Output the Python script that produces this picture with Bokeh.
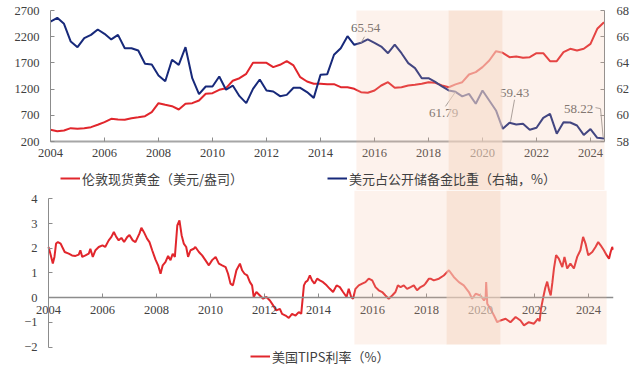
from bokeh.plotting import figure
from bokeh.models import (Range1d, LinearAxis, FixedTicker, BoxAnnotation, Legend,
                          LegendItem, ColumnDataSource)
from bokeh.embed import file_html
from bokeh.resources import INLINE
from bokeh.core.properties import value

# ---------------- data ----------------
# quarterly, starting 2004Q1
gold_price = [423, 397, 410, 455, 443, 455, 474, 519, 569, 633, 620, 614, 645, 664, 684, 760,
              931, 900, 874, 811, 920, 931, 983, 1110, 1122, 1187, 1218, 1360, 1408, 1492, 1702,
              1702, 1702, 1619, 1664, 1733, 1651, 1428, 1345, 1301, 1301, 1294, 1294, 1237, 1237,
              1206, 1141, 1130, 1174, 1269, 1332, 1225, 1237, 1269, 1282, 1301, 1330, 1320, 1270,
              1235, 1290, 1332, 1479, 1523, 1619, 1746, 1924, 1893, 1810, 1822, 1797, 1810, 1886,
              1886, 1733, 1733, 1905, 1969, 1937, 1969, 2064, 2351, 2477]
usd_share = [67.16, 67.44, 66.98, 65.63, 65.20, 65.89, 66.14, 66.55, 66.22, 65.79, 66.14, 65.12,
             65.12, 64.95, 63.93, 63.88, 63.04, 62.60, 64.24, 63.85, 65.20, 62.83, 61.61, 62.20,
             62.20, 62.96, 61.95, 62.27, 61.46, 60.93, 62.02, 62.73, 61.89, 61.82, 61.46, 61.56,
             62.10, 62.10, 61.77, 61.33, 63.09, 63.14, 64.62, 65.12, 66.04, 65.38, 65.54, 65.79,
             65.53, 65.25, 64.74, 65.40, 64.74, 63.98, 63.60, 62.83, 62.83, 62.55, 62.20, 61.90,
             61.79, 61.44, 61.64, 60.88, 61.89, 61.13, 60.37, 58.97, 59.43, 59.30, 59.35, 58.90,
             59.05, 59.80, 60.11, 58.60, 59.47, 59.45, 59.22, 58.50, 58.95, 58.28, 58.22]
quarter_x = [2004 + 0.25 * i for i in range(len(gold_price))]

tips_x = [2004.00, 2004.07, 2004.16, 2004.22, 2004.28, 2004.35, 2004.45, 2004.51, 2004.60, 2004.75,
          2004.87, 2005.00, 2005.12, 2005.18, 2005.25, 2005.37, 2005.49, 2005.55, 2005.64, 2005.74,
          2005.86, 2006.00, 2006.10, 2006.23, 2006.33, 2006.42, 2006.51, 2006.60, 2006.70, 2006.80,
          2006.92, 2007.00, 2007.12, 2007.22, 2007.37, 2007.44, 2007.53, 2007.65, 2007.74, 2007.84,
          2007.96, 2008.06, 2008.15, 2008.23, 2008.33, 2008.43, 2008.52, 2008.60, 2008.68, 2008.77,
          2008.85, 2008.93, 2009.01, 2009.10, 2009.17, 2009.26, 2009.38, 2009.44, 2009.57, 2009.69,
          2009.81, 2009.94, 2010.06, 2010.19, 2010.31, 2010.43, 2010.56, 2010.65, 2010.74, 2010.83,
          2010.93, 2010.96, 2011.09, 2011.17, 2011.26, 2011.36, 2011.46, 2011.54, 2011.60, 2011.70,
          2011.83, 2011.95, 2012.07, 2012.20, 2012.32, 2012.44, 2012.57, 2012.65, 2012.78, 2012.90,
          2013.02, 2013.15, 2013.27, 2013.36, 2013.46, 2013.52, 2013.60, 2013.68, 2013.76, 2013.85,
          2013.95, 2014.05, 2014.17, 2014.30, 2014.42, 2014.54, 2014.67, 2014.79, 2014.91, 2015.04,
          2015.12, 2015.21, 2015.28, 2015.37, 2015.49, 2015.62, 2015.74, 2015.86, 2015.99, 2016.11,
          2016.23, 2016.36, 2016.48, 2016.60, 2016.73, 2016.85, 2016.94, 2017.04, 2017.16, 2017.28,
          2017.41, 2017.53, 2017.65, 2017.78, 2017.90, 2017.96, 2018.09, 2018.15, 2018.27, 2018.46,
          2018.64, 2018.83, 2019.01, 2019.20, 2019.38, 2019.57, 2019.69, 2019.82, 2020.00, 2020.13,
          2020.19, 2020.21, 2020.25, 2020.37, 2020.50, 2020.62, 2020.74, 2020.93, 2021.11, 2021.30,
          2021.48, 2021.61, 2021.79, 2021.98, 2022.13, 2022.19, 2022.24, 2022.33, 2022.40, 2022.47,
          2022.54, 2022.60, 2022.66, 2022.72, 2022.80, 2022.90, 2023.03, 2023.11, 2023.21, 2023.33,
          2023.46, 2023.58, 2023.70, 2023.80, 2023.89, 2023.99, 2024.14, 2024.26, 2024.36, 2024.45,
          2024.57, 2024.67, 2024.76, 2024.82, 2024.88, 2024.93]
tips_rate = [2.05, 1.78, 1.38, 1.65, 2.19, 2.25, 2.19, 2.05, 1.85, 1.78,
             1.71, 1.69, 1.74, 1.92, 1.65, 1.71, 1.78, 1.98, 1.65, 1.92,
             2.05, 2.12, 2.05, 2.32, 2.46, 2.66, 2.46, 2.32, 2.42, 2.25,
             2.46, 2.53, 2.32, 2.25, 2.60, 2.83, 2.66, 2.39, 2.25, 1.92,
             1.55, 1.31, 0.97, 1.31, 1.44, 1.69, 1.52, 1.78, 1.65, 2.92,
             3.13, 2.53, 2.19, 2.05, 1.65, 1.92, 1.98, 2.05, 1.85, 1.71,
             1.52, 1.31, 1.52, 1.65, 1.38, 1.31, 1.24, 0.97, 0.57, 0.50,
             0.97, 1.11, 1.38, 1.11, 0.97, 0.90, 0.63, 0.50, 0.03, 0.23,
             0.09, -0.04, 0.03, -0.11, -0.31, -0.51, -0.45, -0.65, -0.72, -0.82,
             -0.65, -0.72, -0.58, -0.65, 0.50, 0.63, 0.70, 0.90, 0.70, 0.57,
             0.77, 0.70, 0.63, 0.50, 0.36, 0.23, 0.50, 0.43, 0.23, 0.03,
             0.36, 0.03, -0.04, 0.36, 0.50, 0.57, 0.63, 0.77, 0.70, 0.43,
             0.30, 0.23, 0.09, -0.04, 0.09, 0.23, 0.50, 0.43, 0.50, 0.36,
             0.43, 0.50, 0.30, 0.43, 0.50, 0.57, 0.77, 0.77, 0.70, 0.77,
             0.90, 1.11, 0.84, 0.63, 0.50, 0.23, -0.04, 0.16, 0.09, -0.11,
             0.00, 0.63, -0.24, -0.45, -0.72, -0.99, -0.92, -0.85, -0.99, -0.78,
             -0.92, -1.12, -0.99, -1.05, -0.85, -0.95, -0.45, 0.05, 0.40, 0.65,
             0.30, 0.09, 0.60, 1.18, 1.72, 1.58, 1.24, 1.65, 1.18, 1.38,
             1.18, 1.65, 1.92, 2.46, 2.19, 1.72, 1.85, 2.05, 2.25, 2.12,
             1.92, 1.72, 1.58, 1.85, 2.05, 1.94]

year_ticks = [2004, 2006, 2008, 2010, 2012, 2014, 2016, 2018, 2020, 2022, 2024]
gold_ticks = [200, 700, 1200, 1700, 2200, 2700]
share_ticks = [58, 60, 62, 64, 66, 68]
tips_ticks = [-2, -1, 0, 1, 2, 3, 4]

# labelled points: (quarter index, text)
share_labels = [(46, "65.54"), (60, "61.79"), (68, "59.43"), (82, "58.22")]

# shaded periods
light_start, dark_start, dark_end = 2015.33, 2018.74, 2020.74

# ---------------- style ----------------
RED = "#e1262c"
BLUE = "#17297a"
AXIS = "#8c8c8c"
TXT = "#404040"
SERIF = "Liberation Serif"
CJK = "Noto Sans CJK SC"
W = 636
H = 368
LIGHT = ("#f5be9f", 0.2)
DARK = ("#f6d5c1", 0.64)
PX_YR = 27.0


def style_axis(ax, standoff):
    ax.axis_line_color = AXIS
    ax.major_tick_line_color = AXIS
    ax.major_tick_in = 4
    ax.major_tick_out = 0
    ax.minor_tick_line_color = None
    ax.major_label_text_font = SERIF
    ax.major_label_text_font_size = "12.5px"
    ax.major_label_text_color = TXT
    ax.major_label_standoff = standoff


def base_fig(**kw):
    # frames fill the canvas; axes sit at fixed data locations inside them
    p = figure(width=W, output_backend="svg", toolbar_location=None,
               min_border_top=0, min_border_bottom=0, **kw)
    p.grid.visible = False
    p.outline_line_color = None
    p.background_fill_color = "white"
    p.border_fill_color = "white"
    return p


def make_legend(items, loc, spacing=0):
    return Legend(items=items, orientation="horizontal", location=loc, spacing=spacing,
                  glyph_width=20, glyph_height=20, label_height=20, label_standoff=2,
                  padding=0, margin=0, background_fill_alpha=0, border_line_color=None,
                  label_text_font=CJK, label_text_font_size="13px", label_text_color=TXT)


# ---------------- top chart ----------------
T_H = 190                      # canvas height
T_Y_TOP, T_Y_BOT = 10, 141     # canvas rows of 2700 / 200
T_AX_L, T_AX_R = 50, 604       # canvas columns of 2004.0 and of the right axis
F_LEFT = 8
PX_GOLD = (T_Y_BOT - T_Y_TOP) / 2500.0
PX_UNIT = (T_Y_BOT - T_Y_TOP) / 10.0
tx0 = 2004.0 - (T_AX_L - F_LEFT) / PX_YR
tx1 = 2004.0 + (W - T_AX_L) / PX_YR
x_right = 2004.0 + (T_AX_R - T_AX_L) / PX_YR
g_hi = 2700 + T_Y_TOP / PX_GOLD
g_lo = 200 - (T_H - T_Y_BOT) / PX_GOLD
s_hi = 68 + T_Y_TOP / PX_UNIT
s_lo = 58 - (T_H - T_Y_BOT) / PX_UNIT

p1 = base_fig(height=T_H, x_range=Range1d(tx0, tx1), y_range=Range1d(g_lo, g_hi),
              min_border_left=F_LEFT, min_border_right=0)
p1.extra_y_ranges = {"share": Range1d(s_lo, s_hi)}
p1.xaxis.ticker = FixedTicker(ticks=year_ticks)
p1.yaxis.ticker = FixedTicker(ticks=gold_ticks)
style_axis(p1.xaxis[0], 7)
style_axis(p1.yaxis[0], 11)
p1.xaxis.fixed_location = 200
p1.xaxis.bounds = (2004.0, x_right)
p1.xaxis.axis_line_width = 2
p1.xaxis.axis_line_color = "#a6a6a6"
p1.yaxis.fixed_location = 2004.0
p1.yaxis.bounds = (200, 2700)
rax = LinearAxis(y_range_name="share", ticker=FixedTicker(ticks=share_ticks),
                 fixed_location=x_right, bounds=(58, 68))
style_axis(rax, 12)
p1.add_layout(rax, "right")

r_gold = p1.line(quarter_x, gold_price, line_color=RED, line_width=2)
r_usd = p1.line(quarter_x, usd_share, line_color=BLUE, line_width=2, y_range_name="share")

# point labels with leaders (offsets in pixels)
lab_dx = [4.5, -12, 5, -25.5]
lab_dy = [-14.5, 21.6, -30, -29.4]
lx = [quarter_x[i] for i, _ in share_labels]
ly = [usd_share[i] for i, _ in share_labels]
src = ColumnDataSource(dict(x=lx, y=ly, t=[t for _, t in share_labels], dx=lab_dx, dy=lab_dy))
p1.text(x="x", y="y", text="t", x_offset="dx", y_offset="dy", source=src,
        y_range_name="share", text_align="center", text_baseline="middle",
        text_font=value(SERIF), text_font_size="13px", text_color="#666666")
leaders = [[(0, 0), (3.5, -6)],
           [(0, 0), (-10, 14.5)],
           [(1, -1), (5, -23)],
           [(-0.8, -1), (-3.5, -30), (-8.5, -31)]]
for (xi, yi), path in zip(zip(lx, ly), leaders):
    p1.line([xi + dx / PX_YR for dx, _ in path], [yi - dy / PX_UNIT for _, dy in path],
            y_range_name="share", line_color="#9a9a9a", line_width=1)

# (the legend anchor in this figure sits ~29px right of the requested offset, hence the shift)
leg1 = make_legend([LegendItem(label="伦敦现货黄金（美元/盎司）", renderers=[r_gold]),
                    LegendItem(label="美元占公开储备金比重（右轴，%）", renderers=[r_usd])],
                   (89 - F_LEFT - 29, T_H - 188), spacing=84)
p1.add_layout(leg1, "center")

for l, r, (c, a) in [(light_start, dark_start, LIGHT), (dark_start, dark_end, DARK),
                     (dark_end, x_right, LIGHT)]:
    p1.add_layout(BoxAnnotation(left=l, right=r, top=2700, bottom=g_lo,
                                fill_color=c, fill_alpha=a, line_color=None, level="overlay"))

# ---------------- bottom chart ----------------
B_H = H - T_H
PX_TIPS = 24.73                 # pixels per percentage point
Y4 = 198.3 - T_H                # canvas row of the "4" tick
B_LEFT, B_AX, B_RIGHT = 22, 48, 613
x0 = 2004.0 - (B_AX - B_LEFT) / PX_YR
x1 = 2004.0 + (B_RIGHT - B_AX) / PX_YR
y_hi = 4 + Y4 / PX_TIPS
y_lo = y_hi - B_H / PX_TIPS
p2 = base_fig(height=B_H, x_range=Range1d(x0, x1), y_range=Range1d(y_lo, y_hi),
              min_border_left=B_LEFT, min_border_right=W - B_RIGHT)
p2.xaxis.ticker = FixedTicker(ticks=year_ticks)
p2.yaxis.ticker = FixedTicker(ticks=tips_ticks)
style_axis(p2.xaxis[0], 8)
style_axis(p2.yaxis[0], 11)
p2.xaxis.fixed_location = 0
p2.xaxis.bounds = (2004.0, x1)
p2.xaxis.axis_line_width = 1.5
p2.yaxis.fixed_location = 2004.0
p2.yaxis.bounds = (-2, 4)

r_tips = p2.line(tips_x, tips_rate, line_color=RED, line_width=2)
leg2 = make_legend([LegendItem(label="美国TIPS利率（%）", renderers=[r_tips])],
                   (250 - B_LEFT, 2))
p2.add_layout(leg2, "center")

b_bottom = -2 + 2.7 / PX_TIPS
for l, r, (c, a) in [(light_start, dark_start, LIGHT), (dark_start, dark_end, DARK),
                     (dark_end, 2024.67, LIGHT)]:
    p2.add_layout(BoxAnnotation(left=l, right=r, top=y_hi, bottom=b_bottom,
                                fill_color=c, fill_alpha=a, line_color=None, level="overlay"))

open("out.html", "w").write(file_html([p1, p2], INLINE))
